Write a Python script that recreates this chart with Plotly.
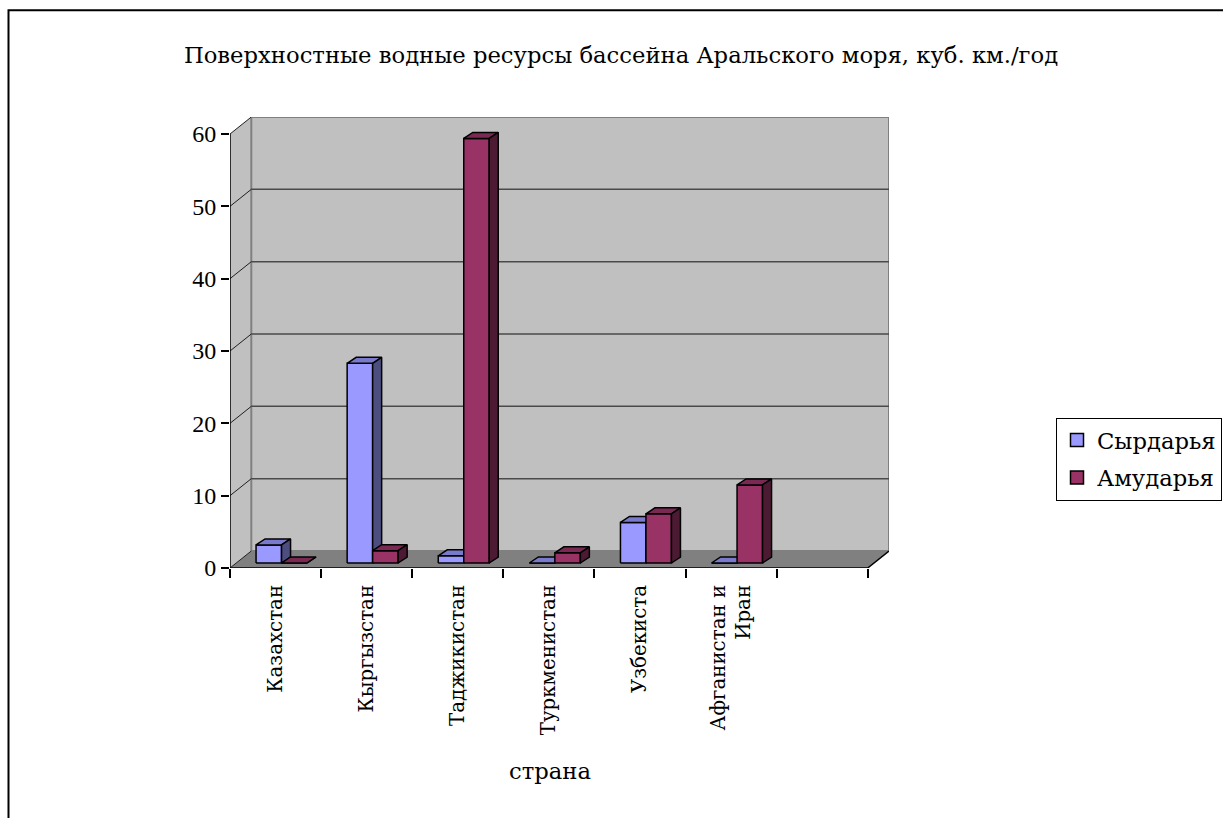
import plotly.graph_objects as go

# ---------------- data ----------------
categories = ["Казахстан", "Кыргызстан", "Таджикистан", "Туркменистан",
              "Узбекиста", "Афганистан и<br>Иран", ""]
syrdarya = [2.5, 27.6, 1.0, 0.0, 5.6, 0.0, None]
amudarya = [0.0, 1.7, 58.7, 1.4, 6.8, 10.8, None]
series_names = ["Сырдарья", "Амударья"]
y_tick_values = [0, 10, 20, 30, 40, 50, 60]
chart_title = "Поверхностные водные ресурсы бассейна Аральского моря, куб. км./год"
x_title = "страна"

# ---------------- style ----------------
FONT_NUM = "Liberation Serif"
FONT_TXT = "DejaVu Serif"
FS_NUM = 24
FS_TXT = 22.7
FS_CAT = 19.8
SLOT_PX = 91.1
UNIT_PX = 7.233
YMAX = 60
n = len(categories)
FDX = 21.3 / SLOT_PX
FDY = 17.0 / UNIT_PX
PDX = 6.0 / SLOT_PX
PDY = 5.0 / UNIT_PX
BW = 25.5 / SLOT_PX
BDX = 9.0 / SLOT_PX
BDY = 6.0 / UNIT_PX
GAP = (1 - 2 * BW) / 2

colors = {
    "Сырдарья": ("#9999FF", "#7A7ACC", "#4D4D80"),
    "Амударья": ("#993366", "#7A2952", "#4D1A33"),
}

L, T = 230, 568.3 - (YMAX * UNIT_PX + 17)
plot_w = n * SLOT_PX + 21.3
plot_h = YMAX * UNIT_PX + 17
B = 818 - 568.3
R = 1223 - L - plot_w

fig = go.Figure()

def path(pts):
    return "M " + " L ".join(f"{x},{y}" for x, y in pts) + " Z"

shapes = []
shapes.append(dict(type="path", xref="x", yref="y", layer="below",
                   path=path([(0, 0), (0, YMAX), (FDX, YMAX + FDY), (FDX, FDY)]),
                   fillcolor="#C0C0C0", line=dict(width=0)))
shapes.append(dict(type="rect", xref="x", yref="y", layer="below",
                   x0=FDX, y0=FDY, x1=n + FDX, y1=YMAX + FDY,
                   fillcolor="#C0C0C0", line=dict(color="#808080", width=2)))
shapes.append(dict(type="path", xref="x", yref="y", layer="below",
                   path=path([(0, 0), (n, 0), (n + FDX, FDY), (FDX, FDY)]),
                   fillcolor="#808080", line=dict(width=0)))
for v in y_tick_values:
    if 0 < v < YMAX:
        shapes.append(dict(type="line", xref="x", yref="y", layer="below",
                           x0=FDX, y0=v + FDY, x1=n + FDX, y1=v + FDY,
                           line=dict(color="#4A4A4A", width=1.5)))
    shapes.append(dict(type="line", xref="x", yref="y", layer="below",
                       x0=0, y0=v, x1=FDX, y1=v + FDY,
                       line=dict(color="#202020", width=1)))
shapes.append(dict(type="line", xref="x", yref="y", layer="below",
                   x0=0, y0=0, x1=0, y1=YMAX, line=dict(color="#000000", width=1.5)))
shapes.append(dict(type="path", xref="x", yref="y", layer="below",
                   path="M 0,0 L %f,0 L %f,%f" % (n, n + FDX, FDY),
                   line=dict(color="#000000", width=1.5)))

def px_x(p):
    return (p - L) / plot_w
def px_y(p):
    return (568.3 - p) / plot_h

shapes.append(dict(type="rect", xref="paper", yref="paper",
                   x0=px_x(8.5), x1=px_x(1260), y0=px_y(860), y1=px_y(10.5),
                   line=dict(color="#000000", width=2), fillcolor="rgba(0,0,0,0)"))

def face(xs, ys, fill):
    fig.add_trace(go.Scatter(x=xs, y=ys, mode="lines", fill="toself",
                             fillcolor=fill, line=dict(color="#000000", width=1.5),
                             hoverinfo="skip", showlegend=False))

for i in range(n):
    for s, (name, vals) in enumerate(zip(series_names, [syrdarya, amudarya])):
        v = vals[i]
        if v is None:
            continue
        front, top, side = colors[name]
        x0 = i + GAP + s * BW + PDX
        x1 = x0 + BW
        y0 = PDY
        y1 = PDY + v
        face([x0, x1, x1, x0, x0], [y0, y0, y1, y1, y0], front)
        face([x0, x1, x1 + BDX, x0 + BDX, x0], [y1, y1, y1 + BDY, y1 + BDY, y1], top)
        face([x1, x1 + BDX, x1 + BDX, x1, x1], [y0, y0 + BDY, y1 + BDY, y1, y0], side)

for k, name in enumerate(series_names):
    fig.add_trace(go.Scatter(x=[None], y=[None], mode="markers", name=name,
                             legendgroup=f"g{k}",
                             marker=dict(symbol="square", size=13, color=colors[name][0],
                                         line=dict(color="#000000", width=1.5))))

fig.update_layout(
    width=1223, height=818, autosize=False,
    margin=dict(l=L, r=R, t=T, b=B, pad=0, autoexpand=False),
    paper_bgcolor="white", plot_bgcolor="white",
    font=dict(family=FONT_TXT, size=FS_TXT, color="black"),
    shapes=shapes,
    title=dict(text=chart_title, x=621 / 1223, y=1 - 55 / 818,
               xref="container", yref="container", xanchor="center", yanchor="middle",
               font=dict(family=FONT_TXT, size=FS_TXT, color="black")),
    xaxis=dict(range=[0, n + FDX], showgrid=False, zeroline=False, showline=False,
               tickmode="array", tickvals=[i + 0.5 for i in range(n)], ticktext=categories,
               tickangle=-90, ticks="outside", ticklen=8, tickcolor="rgba(0,0,0,0)",
               minor=dict(tickmode="array", tickvals=list(range(n + 1)), ticks="outside",
                          ticklen=9, tickcolor="#000000", tickwidth=1.5, showgrid=False),
               tickfont=dict(family=FONT_TXT, size=FS_CAT, color="black"), fixedrange=True),
    yaxis=dict(range=[0, YMAX + FDY], showgrid=False, zeroline=False, showline=False,
               tickmode="array", tickvals=y_tick_values, ticks="outside", ticklen=8,
               tickcolor="#000000", tickwidth=1.5,
               tickfont=dict(family=FONT_NUM, size=FS_NUM, color="black"), fixedrange=True),
    legend=dict(x=px_x(1056), y=px_y(418), xanchor="left", yanchor="top",
                bordercolor="#000000", borderwidth=1, bgcolor="white",
                font=dict(family=FONT_TXT, size=FS_TXT, color="black"), tracegroupgap=5),
    annotations=[dict(text=x_title, xref="paper", yref="paper", x=px_x(550), y=px_y(771),
                      xanchor="center", yanchor="middle", showarrow=False,
                      font=dict(family=FONT_TXT, size=FS_TXT, color="black"))],
)

fig.write_html("out.html")
